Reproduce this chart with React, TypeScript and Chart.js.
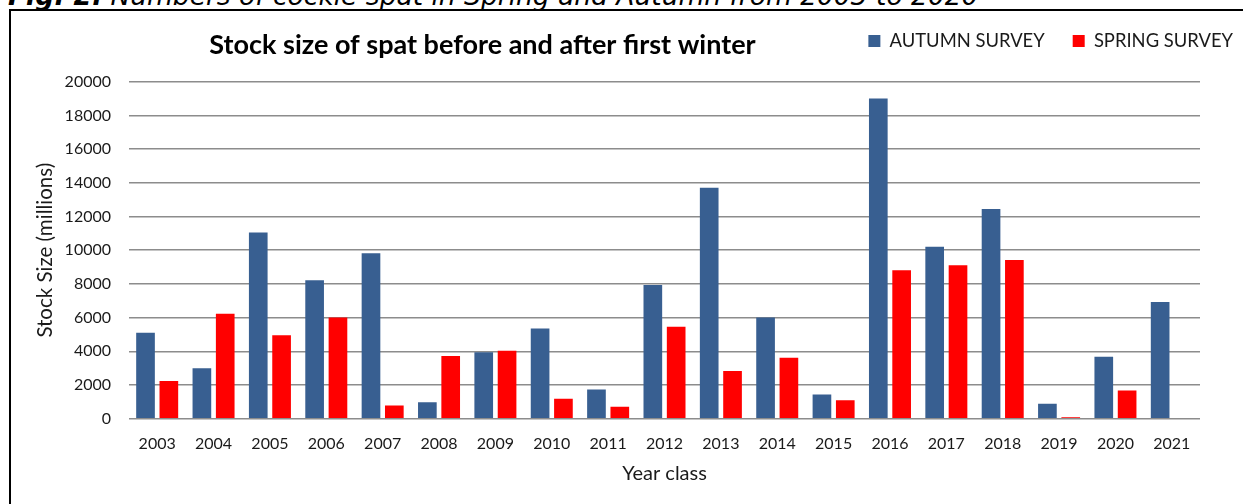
import React, { useEffect, useRef } from "react";
import { Chart, registerables } from "chart.js";

Chart.register(...registerables);

const CAPTION_BOLD = "Fig. 2.";
const CAPTION_REST = " Numbers of cockle spat in Spring and Autumn from 2003 to 2020";
const TITLE = "Stock size of spat before and after first winter";
const X_TITLE = "Year class";
const Y_TITLE = "Stock Size (millions)";

const years = ["2003", "2004", "2005", "2006", "2007", "2008", "2009", "2010", "2011", "2012", "2013", "2014", "2015", "2016", "2017", "2018", "2019", "2020", "2021"];
const autumnSurvey = [5100, 3000, 11050, 8220, 9820, 970, 3940, 5360, 1740, 7930, 13710, 6000, 1430, 19000, 10200, 12450, 890, 3680, 6930];
const springSurvey = [2230, 6230, 4950, 6000, 790, 3720, 4030, 1190, 710, 5460, 2830, 3620, 1090, 8810, 9110, 9420, 80, 1680, null];

const FONT = "Lato, 'Open Sans', sans-serif";

export default function App() {
  const ref = useRef<HTMLCanvasElement | null>(null);

  useEffect(() => {
    if (!ref.current) return;
    const titlePlugin = {
      id: "customTitle",
      afterDraw(chart: any) {
        const ctx = chart.ctx;
        ctx.save();
        ctx.font = `bold 27px ${FONT}`;
        ctx.fillStyle = "#000";
        ctx.textAlign = "center";
        ctx.textBaseline = "alphabetic";
        ctx.fillText(TITLE, 482.5, 53.5);
        ctx.restore();
      },
    };
    const chart = new Chart(ref.current, {
      type: "bar",
      data: {
        labels: years,
        datasets: [
          {
            label: "AUTUMN SURVEY",
            data: autumnSurvey,
            backgroundColor: "#385f91",
            categoryPercentage: 0.828,
            barPercentage: 0.8,
          },
          {
            label: "SPRING SURVEY",
            data: springSurvey,
            backgroundColor: "#ff0000",
            categoryPercentage: 0.828,
            barPercentage: 0.8,
          },
        ],
      },
      options: {
        responsive: false,
        animation: false,
        layout: { padding: { top: 3.8, left: 0, right: 0, bottom: 0 } },
        plugins: {
          title: { display: false },
          tooltip: { enabled: false },
          legend: {
            display: true,
            position: "top",
            align: "end",
            labels: {
              boxWidth: 12,
              boxHeight: 12,
              padding: 28,
              color: "#1a1a1a",
              font: { family: FONT, size: 18.4 },
            },
          },
        },
        scales: {
          x: {
            grid: { display: false },
            border: { display: false },
            ticks: { color: "#1a1a1a", font: { family: FONT, size: 16 }, padding: 8, maxRotation: 0, autoSkip: false },
            title: { display: true, text: X_TITLE, color: "#1a1a1a", font: { family: FONT, size: 20 }, padding: { top: 0, bottom: 18.8 } },
            afterFit: (s: any) => { s.height = 85.3; },
          },
          xTop: {
            type: "linear",
            position: "top",
            display: true,
            grid: { display: false },
            border: { display: false },
            ticks: { display: false },
            afterFit: (s: any) => { s.height = 21.5; },
          },
          y: {
            min: 0,
            max: 20000,
            grid: { color: "#8c8c8c", lineWidth: 1.6, drawTicks: false },
            border: { display: false },
            ticks: { stepSize: 2000, color: "#1a1a1a", font: { family: FONT, size: 16 }, padding: 18, callback: (v: any) => String(v) },
            title: { display: true, text: Y_TITLE, color: "#1a1a1a", font: { family: FONT, size: 20.5 }, padding: { top: 32.7, bottom: 0 } },
            afterFit: (s: any) => { s.width = 129; },
          },
          yRight: {
            type: "linear",
            position: "right",
            display: true,
            grid: { display: false },
            border: { display: false },
            ticks: { display: false },
            afterFit: (s: any) => { s.width = 61; },
          },
        },
      },
      plugins: [titlePlugin],
    } as any);
    return () => chart.destroy();
  }, []);

  return (
    <div style={{ position: "absolute", left: 0, top: 0, width: 1243, height: 504, overflow: "hidden", background: "#fff" }}>
      <div
        style={{
          position: "absolute",
          left: 8,
          top: -17.4,
          fontFamily: "'DejaVu Sans', Verdana, sans-serif",
          fontStyle: "italic",
          fontSize: 26.5,
          lineHeight: "26.5px",
          whiteSpace: "nowrap",
          color: "#000",
        }}
      >
        <b>{CAPTION_BOLD}</b>
        {CAPTION_REST}
      </div>
      <div
        style={{
          position: "absolute",
          left: 9,
          top: 9,
          width: 2000,
          height: 2000,
          borderLeft: "2px solid #000",
          borderTop: "2px solid #000",
        }}
      />
      <canvas ref={ref} width={1261} height={504} style={{ position: "absolute", left: 0, top: 0, width: 1261, height: 504 }} />
    </div>
  );
}
